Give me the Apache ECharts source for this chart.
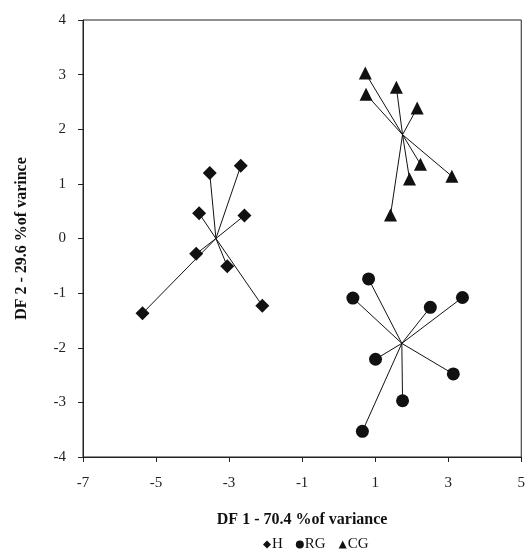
<!DOCTYPE html>
<html>
<head>
<meta charset="utf-8">
<script src="https://cdn.jsdelivr.net/npm/echarts@6/dist/echarts.min.js"></script>
<style>
  html, body { margin: 0; padding: 0; background: #fff; }
  #main { width: 528px; height: 558px; }
</style>
</head>
<body>
<div id="main"></div>
<script>
// group centroids and points
var hCentroid = [-3.36, 0.0];
var hPoints = [[-3.53, 1.20], [-2.68, 1.33], [-3.82, 0.46], [-2.58, 0.42],
               [-3.90, -0.28], [-3.05, -0.51], [-5.37, -1.37], [-2.09, -1.23]];
var rgCentroid = [1.73, -1.92];
var rgPoints = [[0.82, -0.74], [0.39, -1.09], [2.51, -1.26], [3.39, -1.08],
                [1.01, -2.21], [3.14, -2.48], [1.75, -2.97], [0.65, -3.53]];
var cgCentroid = [1.75, 1.90];
var cgPoints = [[0.73, 3.03], [0.75, 2.64], [1.58, 2.77], [2.15, 2.39],
                [2.24, 1.36], [1.94, 1.09], [3.10, 1.14], [1.42, 0.43]];

var serif = '"Liberation Serif", "DejaVu Serif", serif';

function spokes(c, pts) {
  return pts.map(function (p) { return { coords: [c, p] }; });
}

var chart = echarts.init(document.getElementById('main'));
chart.setOption({
  animation: false,
  grid: { left: 83, top: 20, right: 2, bottom: 101, show: true, borderColor: '#222', borderWidth: 1 },
  xAxis: {
    type: 'value', min: -7, max: 5, interval: 2,
    name: 'DF 1 - 70.4 %of variance', nameLocation: 'middle', nameGap: 55,
    nameTextStyle: { fontFamily: serif, fontWeight: 'bold', fontSize: 16, color: '#111' },
    axisLine: { onZero: false, lineStyle: { color: '#222', width: 1 } },
    axisTick: { show: true, length: 5, lineStyle: { color: '#222' } },
    axisLabel: { fontFamily: serif, fontSize: 15, color: '#222', margin: 19 },
    splitLine: { show: false }
  },
  yAxis: {
    type: 'value', min: -4, max: 4, interval: 1,
    name: 'DF 2 - 29.6 %of varince', nameLocation: 'middle', nameGap: 53,
    nameTextStyle: { fontFamily: serif, fontWeight: 'bold', fontSize: 16, color: '#111' },
    axisLine: { onZero: false, lineStyle: { color: '#222', width: 1 } },
    axisTick: { show: true, length: 5, lineStyle: { color: '#222' } },
    axisLabel: { fontFamily: serif, fontSize: 15, color: '#222', margin: 17 },
    splitLine: { show: false }
  },
  legend: {
    bottom: 1, left: 258, itemGap: 13, itemWidth: 8, itemHeight: 8,
    textStyle: { fontFamily: serif, fontSize: 15, color: '#111', padding: [0, 0, 0, -4] },
    data: [
      { name: 'H', icon: 'diamond' },
      { name: 'RG', icon: 'circle' },
      { name: 'CG', icon: 'triangle' }
    ]
  },
  series: [
    { type: 'lines', coordinateSystem: 'cartesian2d', silent: true,
      lineStyle: { color: '#111', width: 1, opacity: 1 },
      data: spokes(hCentroid, hPoints).concat(spokes(rgCentroid, rgPoints), spokes(cgCentroid, cgPoints)) },
    { name: 'H', type: 'scatter', symbol: 'diamond', symbolSize: 14,
      itemStyle: { color: '#111', opacity: 1 }, data: hPoints },
    { name: 'RG', type: 'scatter', symbol: 'circle', symbolSize: 13,
      itemStyle: { color: '#111', opacity: 1 }, data: rgPoints },
    { name: 'CG', type: 'scatter', symbol: 'triangle', symbolSize: 13,
      itemStyle: { color: '#111', opacity: 1 }, data: cgPoints }
  ]
});
</script>
</body>
</html>
